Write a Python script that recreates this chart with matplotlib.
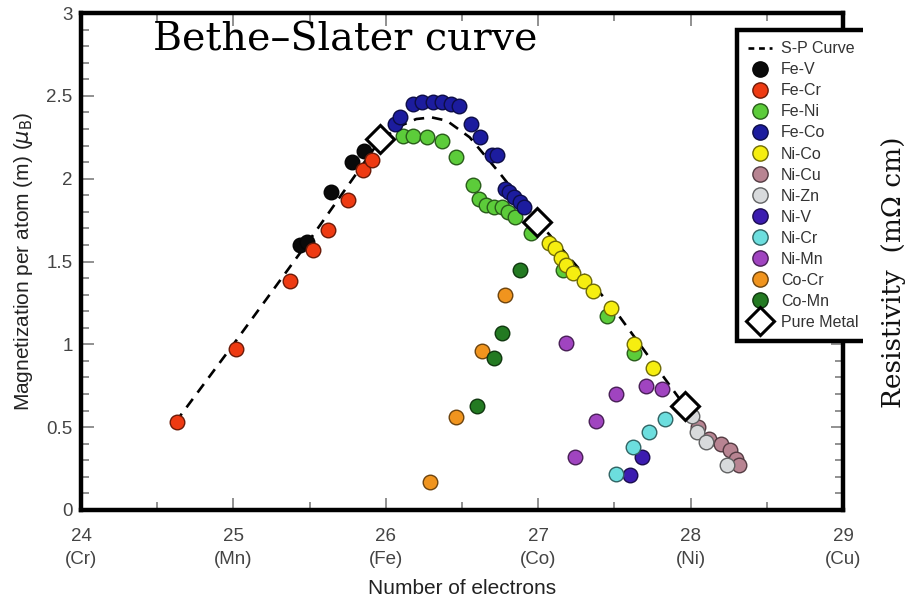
import matplotlib
matplotlib.use("Agg")
import matplotlib.pyplot as plt
from matplotlib.lines import Line2D
from matplotlib.patches import Rectangle
from matplotlib.colors import to_rgb

plt.rcParams['font.family'] = ['Liberation Sans', 'DejaVu Sans']

# Slater-Pauling curve
sp_x = [24.62, 25.0, 25.5, 25.96, 26.1, 26.2, 26.3, 26.4, 26.55, 26.75, 27.0, 27.5, 27.96]
sp_y = [0.53, 1.0, 1.63, 2.23, 2.32, 2.36, 2.37, 2.35, 2.25, 2.03, 1.74, 1.21, 0.63]

fev_x = [25.44, 25.48, 25.64, 25.78, 25.86]
fev_y = [1.60, 1.62, 1.92, 2.10, 2.17]
fecr_x = [24.63, 25.02, 25.37, 25.52, 25.62, 25.75, 25.85, 25.91]
fecr_y = [0.53, 0.97, 1.38, 1.57, 1.69, 1.87, 2.05, 2.11]
feni_x = [26.11, 26.18, 26.27, 26.37, 26.46, 26.57, 26.61, 26.66, 26.71, 26.76, 26.80, 26.85,
          26.95, 27.16, 27.45, 27.63]
feni_y = [2.26, 2.26, 2.25, 2.23, 2.13, 1.96, 1.88, 1.84, 1.83, 1.83, 1.80, 1.77,
          1.67, 1.45, 1.17, 0.95]
feco_x = [26.06, 26.09, 26.18, 26.24, 26.31, 26.37, 26.43, 26.48, 26.56, 26.62, 26.70, 26.73,
          26.78, 26.81, 26.84, 26.88, 26.91]
feco_y = [2.33, 2.37, 2.45, 2.46, 2.46, 2.46, 2.45, 2.44, 2.33, 2.25, 2.14, 2.14,
          1.94, 1.92, 1.89, 1.86, 1.83]
nico_x = [27.07, 27.11, 27.15, 27.18, 27.23, 27.30, 27.36, 27.48, 27.63, 27.75]
nico_y = [1.61, 1.58, 1.52, 1.48, 1.43, 1.38, 1.32, 1.22, 1.00, 0.86]
nicu_x = [28.05, 28.12, 28.20, 28.26, 28.30, 28.32]
nicu_y = [0.50, 0.43, 0.40, 0.36, 0.31, 0.27]
nizn_x = [28.01, 28.04, 28.10, 28.24]
nizn_y = [0.57, 0.47, 0.41, 0.27]
niv_x = [27.68, 27.60]
niv_y = [0.32, 0.21]
nicr_x = [27.83, 27.73, 27.62, 27.51]
nicr_y = [0.55, 0.47, 0.38, 0.22]
nimn_x = [27.18, 27.51, 27.71, 27.81, 27.38, 27.24]
nimn_y = [1.01, 0.70, 0.75, 0.73, 0.54, 0.32]
cocr_x = [26.78, 26.63, 26.46, 26.29]
cocr_y = [1.30, 0.96, 0.56, 0.17]
comn_x = [26.88, 26.76, 26.71, 26.60]
comn_y = [1.45, 1.07, 0.92, 0.63]
pure_x = [25.96, 26.99, 27.96]
pure_y = [2.24, 1.74, 0.63]

xticks = [24, 25, 26, 27, 28, 29]
xtick_labels = ['24\n(Cr)', '25\n(Mn)', '26\n(Fe)', '27\n(Co)', '28\n(Ni)', '29\n(Cu)']
yticks = [0, 0.5, 1, 1.5, 2, 2.5, 3]
ytick_labels = ['0', '0.5', '1', '1.5', '2', '2.5', '3']

series = [
    ('Fe-V', fev_x, fev_y, '#0a0a0a'),
    ('Fe-Cr', fecr_x, fecr_y, '#ee3a12'),
    ('Fe-Ni', feni_x, feni_y, '#5ccc3a'),
    ('Fe-Co', feco_x, feco_y, '#1c1c9e'),
    ('Ni-Co', nico_x, nico_y, '#f6ee10'),
    ('Ni-Cu', nicu_x, nicu_y, '#b88492'),
    ('Ni-Zn', nizn_x, nizn_y, '#d8dadc'),
    ('Ni-V', niv_x, niv_y, '#3c1cb0'),
    ('Ni-Cr', nicr_x, nicr_y, '#6cdede'),
    ('Ni-Mn', nimn_x, nimn_y, '#a044c0'),
    ('Co-Cr', cocr_x, cocr_y, '#f0941e'),
    ('Co-Mn', comn_x, comn_y, '#237a22'),
]

def dark(c, f=0.45):
    r, g, b = to_rgb(c)
    return (r * f, g * f, b * f)

fig = plt.figure(figsize=(9.14, 6.01), dpi=100)
fig.patch.set_facecolor('white')
ax = fig.add_axes([81/914, 1 - 510/601, (843 - 81)/914, (510 - 13)/601])

ax.plot(sp_x, sp_y, color='black', lw=1.9, ls=(0, (4, 3)), zorder=2)
handles = [Line2D([], [], color='black', lw=1.9, ls=(0, (2.2, 1.8)), label='S-P Curve')]
for name, xs, ys, c in series:
    ax.scatter(xs, ys, s=110, color=c, edgecolors=[dark(c)], linewidths=1.0, zorder=3)
    handles.append(Line2D([], [], ls='none', marker='o', ms=11, mfc=c, mec=dark(c),
                          mew=1.0, label=name))
ax.plot(pure_x, pure_y, ls='none', marker='D', ms=14, mfc='white', mec='black', mew=2.2, zorder=4)
handles.append(Line2D([], [], ls='none', marker='D', ms=14, mfc='white', mec='black',
                      mew=2.2, label='Pure Metal'))

ax.set_xlim(24, 29)
ax.set_ylim(0, 3)
ax.set_xticks(xticks)
ax.set_xticklabels(xtick_labels, linespacing=1.45)
ax.set_xticks([24.5, 25.5, 26.5, 27.5, 28.5], minor=True)
ax.set_yticks(yticks)
ax.set_yticklabels(ytick_labels)
ax.set_yticks([i / 10 for i in range(31) if i % 5], minor=True)
ax.tick_params(which='both', direction='in', top=True, right=True, color='#888888',
               labelcolor='#444444', labelsize=13.5)
ax.tick_params(which='major', length=9, width=1.3, pad=6)
ax.tick_params(axis='x', which='major', pad=13)
ax.tick_params(which='minor', length=6, width=1.3)
for sp in ax.spines.values():
    sp.set_linewidth(3.2)
    sp.set_color('black')

ax.set_xlabel('Number of electrons', fontsize=15, color='#222222', labelpad=8)
ax.set_ylabel(r'Magnetization per atom (m) ($\mu_\mathrm{B}$)', fontsize=15,
              color='#222222', labelpad=8)

leg = ax.legend(handles=handles, loc='upper left', bbox_to_anchor=(737/914, 1 - 30/601),
                bbox_transform=fig.transFigure, fontsize=11.5, labelspacing=0.38,
                handlelength=1.5, handletextpad=0.55, borderpad=0.7, borderaxespad=0,
                fancybox=False, framealpha=1, edgecolor='black')
leg.get_frame().set_linewidth(3.2)
for t in leg.get_texts():
    t.set_color('#333333')

# pasted-on white strip with the resistivity label
fig.add_artist(Rectangle((863/914, 1 - 440/601), 1, 440/601, transform=fig.transFigure,
                         facecolor='white', edgecolor='none', zorder=10))
fig.text(893/914, 1 - 272/601, 'Resistivity  (mΩ cm)', rotation=90, ha='center', va='center',
         family='DejaVu Serif', fontsize=19, color='#111111', zorder=11)
fig.text(153/914, 1 - 40/601, 'Bethe–Slater curve', ha='left', va='center',
         family='DejaVu Serif', fontsize=28.5, color='black', zorder=11)

fig.savefig('out.png', dpi=100)
